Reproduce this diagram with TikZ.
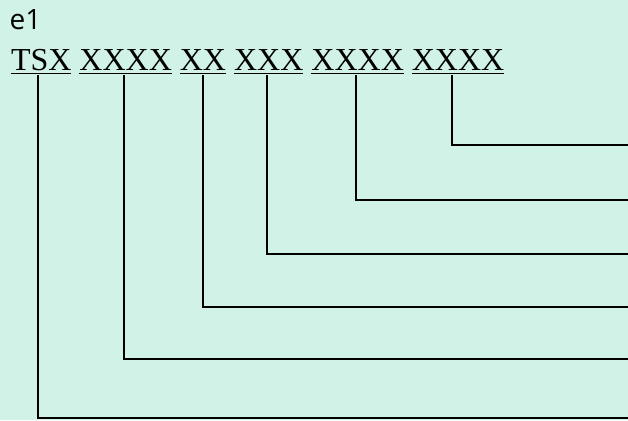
\documentclass[tikz,border=0pt]{standalone}
\usepackage{fontspec}
\setmainfont{Liberation Serif}
\newfontfamily\labelfont{Open Sans}
\usepackage{tikz}
\usetikzlibrary{positioning}
\definecolor{bgmint}{HTML}{D1F2E6}
\definecolor{inkline}{HTML}{000000}
\tikzset{
  word/.style  = {inner sep=0pt, outer sep=0pt, text depth=0pt, anchor=base west,
                  font=\fontsize{32}{36}\selectfont},
  tag/.style   = {inner sep=0pt, anchor=base west, font=\labelfont\fontsize{28}{32}\selectfont},
  uline/.style = {line width=1.5pt, draw=inkline},
  link/.style  = {line width=1.8pt, draw=inkline},
}
\begin{document}
\begin{tikzpicture}[x=1pt, y=1pt]
					\fill[bgmint] (0,0) rectangle (628,-420);
					\useasboundingbox (0,0) rectangle (628,-420);
					\node[tag] (lbl) at (9.5,-30) {e1};
					\node[word] (w1) at (11,-70.5) {TSX};
					\node[word] (w2) at ([xshift=8pt]w1.base east) {XXXX};
					\node[word] (w3) at ([xshift=8pt]w2.base east) {XX};
					\node[word] (w4) at ([xshift=8pt]w3.base east) {XXX};
					\node[word] (w5) at ([xshift=8pt]w4.base east) {XXXX};
					\node[word] (w6) at ([xshift=8pt]w5.base east) {XXXX};
					\foreach \i in {1,...,6}{\draw[uline] ([yshift=-2.8pt]w\i.base west) -- ([yshift=-2.8pt]w\i.base east);}
					% taps under the words and ends at the right edge
					\foreach \i/\x/\y in {1/38/418,2/124/359,3/203/307,4/267/254,5/356/200,6/452/145}{
						\coordinate (t\i) at (\x,-\y);
						\coordinate (e\i) at (628,-\y);
					}
					\foreach \i in {1,...,6}{\draw[link] ([yshift=-4.5pt]w\i.base -| t\i) -- (t\i) -- (e\i);}
				\end{tikzpicture}
\end{document}
